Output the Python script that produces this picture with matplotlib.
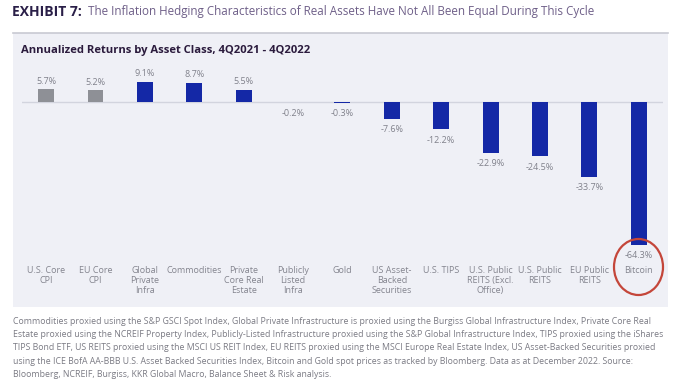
import matplotlib
matplotlib.use("Agg")
import matplotlib.pyplot as plt
from matplotlib.patches import Rectangle, Ellipse

plt.rcParams['font.family'] = ['Open Sans', 'DejaVu Sans']

categories = ["U.S. Core\nCPI", "EU Core\nCPI", "Global\nPrivate\nInfra", "Commodities",
              "Private\nCore Real\nEstate", "Publicly\nListed\nInfra", "Gold",
              "US Asset-\nBacked\nSecurities", "U.S. TIPS", "U.S. Public\nREITS (Excl.\nOffice)",
              "U.S. Public\nREITS", "EU Public\nREITS", "Bitcoin"]
returns = [5.7, 5.2, 9.1, 8.7, 5.5, -0.2, -0.3, -7.6, -12.2, -22.9, -24.5, -33.7, -64.3]
is_inflation = [True, True] + [False] * 11

title_bold = "EXHIBIT 7:"
title_rest = "The Inflation Hedging Characteristics of Real Assets Have Not All Been Equal During This Cycle"
subtitle = "Annualized Returns by Asset Class, 4Q2021 - 4Q2022"
footnote = ("Commodities proxied using the S&P GSCI Spot Index, Global Private Infrastructure is proxied using the Burgiss Global Infrastructure Index, Private Core Real\n"
            "Estate proxied using the NCREIF Property Index, Publicly-Listed Infrastructure proxied using the S&P Global Infrastructure Index, TIPS proxied using the iShares\n"
            "TIPS Bond ETF, US REITS proxied using the MSCI US REIT Index, EU REITS proxied using the MSCI Europe Real Estate Index, US Asset-Backed Securities proxied\n"
            "using the ICE BofA AA-BBB U.S. Asset Backed Securities Index, Bitcoin and Gold spot prices as tracked by Bloomberg. Data as at December 2022. Source:\n"
            "Bloomberg, NCREIF, Burgiss, KKR Global Macro, Balance Sheet & Risk analysis.")

W, H = 680, 384
fig = plt.figure(figsize=(W / 100, H / 100), dpi=100)
fig.patch.set_facecolor('white')

def fx(px):
    return px / W

def fy(py):
    return 1 - py / H

# panel background + top rule
fig.patches.append(Rectangle((fx(13), fy(307)), fx(668) - fx(13), fy(33) - fy(307),
                             transform=fig.transFigure, facecolor='#eff0f6', edgecolor='none', zorder=0))
fig.add_artist(plt.Line2D([fx(13), fx(668)], [fy(33), fy(33)], transform=fig.transFigure,
                          color='#c8c9d2', lw=1.2))

# titles
fig.text(fx(12), fy(12), title_bold, fontsize=10, fontweight='bold', color='#2a1f48', va='center')
fig.text(fx(88), fy(12), title_rest, fontsize=8.35, color='#6e5f88', va='center')
fig.text(fx(21), fy(50), subtitle, fontsize=8.1, fontweight='bold', color='#2b1b3d', va='center')

# chart
ax = fig.add_axes([fx(22), fy(262), fx(663) - fx(22), fy(70) - fy(262)], zorder=3)
ax.set_facecolor('none')
x = list(range(len(returns)))
colors = ['#8e9096' if g else '#1428a6' for g in is_inflation]
ax.bar(x, returns, width=0.32, color=colors, zorder=2)
ax.axhline(0, color='#d2d4de', lw=1, zorder=1)
for xi, v in zip(x, returns):
    off = 6 if v > 0 else -8
    ax.annotate(f"{v:.1f}%", (xi, v), xytext=(0, off), textcoords='offset points',
                ha='center', va='center', fontsize=6.5, color='#80818b')
ax.set_xlim(-0.486, 12.49)
ax.set_ylim(-72.07, 14.41)
ax.set_xticks(x)
ax.set_xticklabels(categories, fontsize=6.5, color='#84858f', linespacing=1.1)
ax.tick_params(axis='x', length=0, pad=3)
ax.set_yticks([])
for s in ax.spines.values():
    s.set_visible(False)

# highlight circle around Bitcoin
fig.add_artist(Ellipse((fx(638.5), fy(267)), 49 / W, 56 / H, transform=fig.transFigure,
                       facecolor='none', edgecolor='#c4463a', lw=1.6, zorder=5))

# footnote
fig.text(fx(13), fy(317), footnote, fontsize=6.3, color='#7b7b84', va='top', linespacing=1.6)

fig.savefig('out.png', dpi=100)
